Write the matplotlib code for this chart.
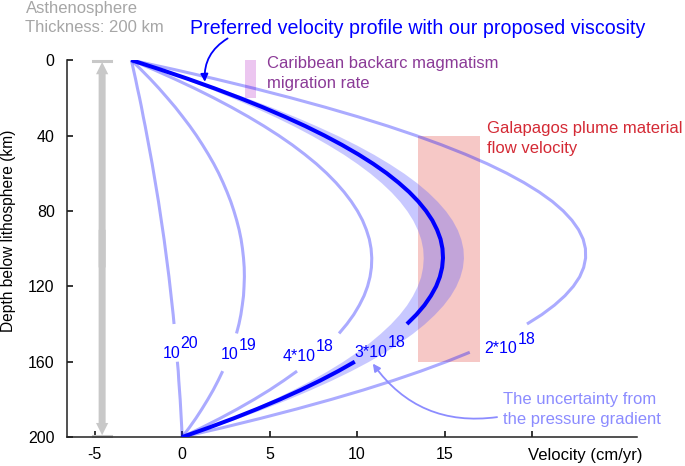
import numpy as np
import matplotlib
matplotlib.use('Agg')
import matplotlib.pyplot as plt
from matplotlib.patches import Rectangle, FancyArrow

plt.rcParams['font.family'] = ['Liberation Sans', 'DejaVu Sans']

# depth below lithosphere (km), every 5 km
depth = list(range(0, 205, 5))

# velocity (cm/yr)
v_1e20 = [-2.9, -2.78, -2.66, -2.55, -2.43, -2.32, -2.22, -2.11, -2.01, -1.91, -1.81,
          -1.71, -1.62, -1.53, -1.44, -1.35, -1.27, -1.19, -1.11, -1.03, -0.96,
          -0.89, -0.82, -0.75, -0.69, -0.63, -0.57, -0.51, -0.46, -0.41, -0.36,
          -0.31, -0.27, -0.22, -0.19, -0.15, -0.11, -0.08, -0.05, -0.02, 0]
v_1e19 = [-2.9, -2.35, -1.82, -1.32, -0.85, -0.39, 0.03, 0.44, 0.82, 1.17, 1.50,
          1.81, 2.09, 2.34, 2.57, 2.78, 2.96, 3.12, 3.26, 3.37, 3.45,
          3.51, 3.55, 3.56, 3.54, 3.51, 3.44, 3.36, 3.25, 3.11, 2.95,
          2.77, 2.56, 2.32, 2.06, 1.78, 1.47, 1.14, 0.79, 0.41, 0]
v_4e18 = [-2.9, -1.63, -0.43, 0.72, 1.80, 2.82, 3.78, 4.68, 5.52, 6.30, 7.01,
          7.67, 8.26, 8.79, 9.26, 9.67, 10.02, 10.31, 10.53, 10.70, 10.80,
          10.84, 10.82, 10.74, 10.60, 10.40, 10.13, 9.81, 9.42, 8.97, 8.46,
          7.89, 7.26, 6.57, 5.81, 5.00, 4.12, 3.18, 2.18, 1.12, 0]
v_3e18 = [-2.9, -1.24, 0.35, 1.85, 3.27, 4.61, 5.86, 7.04, 8.13, 9.14, 10.07,
          10.92, 11.69, 12.37, 12.98, 13.50, 13.94, 14.30, 14.57, 14.77, 14.88,
          14.91, 14.86, 14.73, 14.52, 14.22, 13.85, 13.39, 12.85, 12.23, 11.52,
          10.74, 9.87, 8.92, 7.89, 6.78, 5.59, 4.31, 2.96, 1.52, 0]
v_2e18 = [-2.9, -0.44, 1.90, 4.12, 6.21, 8.18, 10.03, 11.76, 13.36, 14.84, 16.20,
          17.44, 18.55, 19.54, 20.41, 21.16, 21.78, 22.28, 22.66, 22.92, 23.05,
          23.06, 22.95, 22.72, 22.36, 21.88, 21.28, 20.56, 19.71, 18.74, 17.65,
          16.44, 15.10, 13.64, 12.06, 10.36, 8.53, 6.58, 4.51, 2.32, 0]

# uncertainty band of the preferred profile (pressure gradient)
band_lo = [-2.9, -1.35, 0.13, 1.54, 2.86, 4.11, 5.29, 6.39, 7.41, 8.35, 9.23,
           10.02, 10.74, 11.38, 11.95, 12.44, 12.85, 13.19, 13.45, 13.64, 13.75,
           13.78, 13.74, 13.63, 13.43, 13.16, 12.82, 12.40, 11.90, 11.32, 10.68,
           9.95, 9.15, 8.27, 7.32, 6.29, 5.18, 4.00, 2.74, 1.41, 0]
band_hi = [-2.9, -1.12, 0.57, 2.17, 3.69, 5.12, 6.46, 7.71, 8.88, 9.96, 10.95,
           11.85, 12.67, 13.40, 14.04, 14.59, 15.06, 15.44, 15.73, 15.93, 16.05,
           16.08, 16.02, 15.87, 15.64, 15.32, 14.91, 14.41, 13.83, 13.16, 12.40,
           11.55, 10.62, 9.60, 8.49, 7.29, 6.01, 4.64, 3.18, 1.63, 0]

label_base = ['10', '10', '4*10', '3*10', '2*10']
label_exp = ['20', '19', '18', '18', '18']

# observation ranges: (vmin, vmax, depth top, depth bottom)
galapagos = (13.5, 17.0, 40, 160)
caribbean = (3.6, 4.2, 0, 20)

fig = plt.figure(figsize=(6.85, 4.66), dpi=100)
ax = fig.add_axes([0.098, 0.062, 0.832, 0.809])

d = np.array(depth, dtype=float)


def broken(v, lo, hi):
    # leave a gap where the curve label sits
    v = np.array(v, dtype=float)
    v[(d > lo) & (d < hi)] = np.nan
    return v


ax.add_patch(Rectangle((galapagos[0], galapagos[2]), galapagos[1] - galapagos[0],
                       galapagos[3] - galapagos[2], color='#f6c8c6', lw=0, zorder=1))
ax.add_patch(Rectangle((caribbean[0], caribbean[2]), caribbean[1] - caribbean[0],
                       caribbean[3] - caribbean[2], color='#ecc6f0', lw=0, zorder=1))

ax.fill_betweenx(d, band_lo, band_hi, color=(0.39, 0.39, 1.0), alpha=0.35, lw=0, zorder=2)

light = [(v_1e20, 141, 159), (v_1e19, 146, 164), (v_4e18, 146, 164), (v_2e18, 141, 154)]
for v, lo, hi in light:
    ax.plot(broken(v, lo, hi), d, color='blue', alpha=0.33, lw=2.2,
            solid_capstyle='butt', zorder=3)
ax.plot(broken(v_3e18, 141, 159), d, color='blue', lw=2.9, solid_capstyle='butt', zorder=4)

# label anchor: right edge of the base, baseline depth
label_pos = [(-0.11, 158.1), (3.22, 158.8), (7.64, 159.5), (11.73, 157.4), (19.16, 155.6)]
for base, ex, (x, y) in zip(label_base, label_exp, label_pos):
    ax.text(x, y, base, color='blue', fontsize=11.5, ha='right', va='baseline', zorder=5)
    ax.annotate(ex, xy=(x, y), xytext=(0.3, 7), textcoords='offset points', color='blue',
                fontsize=11.5, ha='left', va='baseline', zorder=5)

# asthenosphere thickness arrow
ax.add_patch(FancyArrow(-4.57, 110, 0, -109, width=0.4, head_width=0.7, head_length=6.5,
                        length_includes_head=True, color='#c8c8c8', lw=0, clip_on=False))
ax.add_patch(FancyArrow(-4.57, 90, 0, 109, width=0.4, head_width=0.7, head_length=6.5,
                        length_includes_head=True, color='#c8c8c8', lw=0, clip_on=False))
ax.plot([-5.1, -4.05], [0.5, 0.5], color='#c8c8c8', lw=2.2, clip_on=False)
ax.plot([-5.1, -4.05], [199.5, 199.5], color='#c8c8c8', lw=2.2, clip_on=False)


def lines(x, ys, txts, **kw):
    for y, t in zip(ys, txts):
        ax.text(x, y, t, ha='left', va='baseline', clip_on=False, **kw)


lines(-8.95, [-25.1, -14.7], ['Asthenosphere', 'Thickness: 200 km'], color='#a6a6a6', fontsize=12)
ax.text(0.46, -14.1, 'Preferred velocity profile with our proposed viscosity', color='blue',
        fontsize=14.1, ha='left', va='baseline', clip_on=False)
ax.annotate('', xy=(1.3, 11.5), xytext=(2.6, -11.5), annotation_clip=False,
            arrowprops=dict(arrowstyle='-|>', color='blue', lw=1.3, mutation_scale=11,
                            connectionstyle='arc3,rad=0.3', shrinkA=0, shrinkB=0))
lines(4.86, [4.4, 14.8], ['Caribbean backarc magmatism', 'migration rate'],
      color='#8b3a97', fontsize=12)
lines(17.43, [38.9, 49.5], ['Galapagos plume material', 'flow velocity'],
      color='#d42a35', fontsize=12)
lines(18.34, [182.7, 193.1], ['The uncertainty from', 'the pressure gradient'],
      color='#8c8cff', fontsize=12)
ax.annotate('', xy=(10.9, 161), xytext=(18.0, 189.4),
            arrowprops=dict(arrowstyle='-|>', color='#8c8cff', lw=1.3, mutation_scale=11,
                            connectionstyle='arc3,rad=-0.3', shrinkA=0, shrinkB=0))

ax.set_xlim(-6.57, 26.0)
ax.set_ylim(200, 0)
ax.set_xticks([-5, 0, 5, 10, 15, 20])
ax.set_xticklabels(['-5', '0', '5', '10', '15', ''])
ax.set_yticks([0, 40, 80, 120, 160, 200])
ax.tick_params(direction='in', length=4, width=1.1, labelsize=11.5)
ax.tick_params(axis='y', pad=9)
ax.tick_params(axis='x', pad=7)
for s in ['top', 'right']:
    ax.spines[s].set_visible(False)
for s in ['left', 'bottom']:
    ax.spines[s].set_linewidth(1.1)
    ax.spines[s].set_color('#222222')
ax.set_ylabel('Depth below lithosphere (km)', fontsize=11.2)
ax.yaxis.set_label_coords(-0.090, 0.546)
ax.text(26.3, 212.2, 'Velocity (cm/yr)', fontsize=12, ha='right', va='baseline', clip_on=False)

fig.savefig('out.png', dpi=100)
